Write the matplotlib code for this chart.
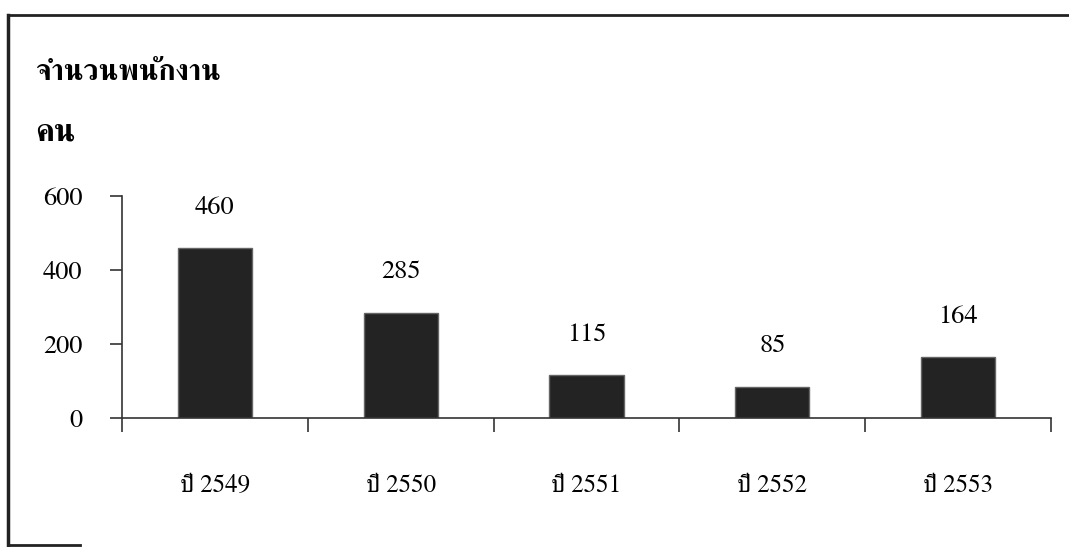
import numpy as np
import matplotlib
matplotlib.use('Agg')
import matplotlib.pyplot as plt
from matplotlib.lines import Line2D
from matplotlib.ticker import FixedLocator

# FreeSerif has Thai glyphs and a Times-like Latin set
plt.rcParams['font.family'] = ['FreeSerif', 'DejaVu Sans']
plt.rcParams['font.size'] = 19

title = 'จำนวนพนักงาน'
unit = 'คน'
years = ['ปี 2549', 'ปี 2550', 'ปี 2551', 'ปี 2552', 'ปี 2553']
staff = [460, 285, 115, 85, 164]
yticks = [0, 200, 400, 600]

fig = plt.figure(figsize=(10.69, 5.47), dpi=100)
ax = fig.add_axes([0.1141, 0.2358, 0.869, 0.4059])

x = np.arange(len(years))
ax.bar(x, staff, width=0.4, color='#232323', edgecolor='#666666', linewidth=1, zorder=2)
for xi, v in zip(x, staff):
    ax.annotate(str(v), (xi, v), xytext=(0, 29), textcoords='offset points',
                ha='center', va='center', fontsize=19)

ax.set_xlim(-0.5, len(years) - 0.5)
ax.set_ylim(0, 600)
ax.set_yticks(yticks)
ax.set_xticks(x)
ax.set_xticklabels(years)
ax.xaxis.set_minor_locator(FixedLocator(np.arange(-0.5, len(years), 1)))
ax.tick_params(axis='x', which='major', length=0, pad=40, labelsize=18)
ax.tick_params(axis='x', which='minor', direction='out', length=10, width=1.2, color='#333333')
ax.tick_params(axis='y', direction='out', length=8.5, width=1.2, color='#333333', pad=20, labelsize=19)

for s in ['top', 'right']:
    ax.spines[s].set_visible(False)
for s in ['left', 'bottom']:
    ax.spines[s].set_color('#333333')
    ax.spines[s].set_linewidth(1.2)

fig.text(0.0327, 0.866, title, fontsize=21, fontweight='bold', va='center')
fig.text(0.0327, 0.757, unit, fontsize=23, fontweight='bold', va='center')

# outer frame of the scanned chart
fig.add_artist(Line2D([0.0075, 0.0075], [0.004, 0.973], color='#222222', lw=2.5))
fig.add_artist(Line2D([0.0075, 1.0], [0.973, 0.973], color='#222222', lw=2))
fig.add_artist(Line2D([0.0075, 0.075], [0.004, 0.004], color='#222222', lw=2))

fig.savefig('out.png')
